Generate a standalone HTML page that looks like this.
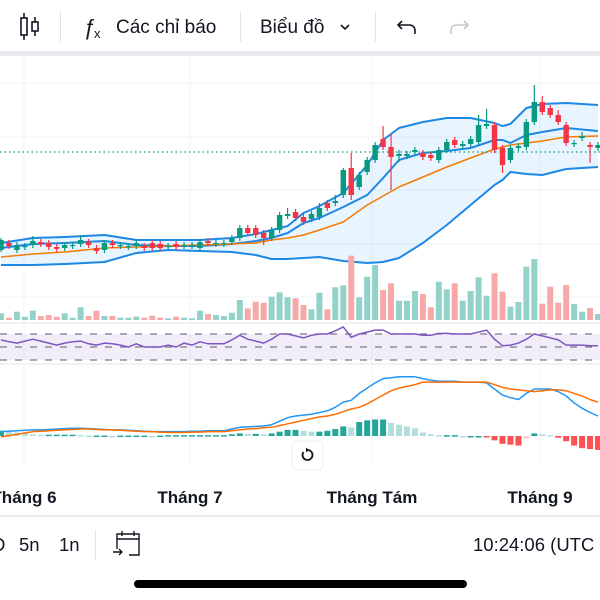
<!DOCTYPE html>
<html><head><meta charset="utf-8"><style>
html,body{margin:0;padding:0;background:#fff;width:600px;height:600px;overflow:hidden;font-family:"Liberation Sans","Noto Sans CJK SC",sans-serif}
svg{position:absolute;left:0;top:0}
</style></head><body>
<svg id="c" width="600" height="600" viewBox="0 0 600 600" xmlns="http://www.w3.org/2000/svg">
<g>
<rect x="0" y="0" width="600" height="56" fill="#fff"/>
<rect x="0" y="51" width="600" height="5" fill="#e8eaef"/>
<g stroke="#131722" stroke-width="1.6" fill="none">
<line x1="24" y1="13" x2="24" y2="40"/><rect x="21" y="18" width="6" height="17" fill="#fff"/>
<line x1="35" y1="17" x2="35" y2="36"/><rect x="32" y="22" width="6" height="9" fill="#fff"/></g>
<rect x="60" y="12" width="1" height="30" fill="#e0e3eb"/>
<g>
<text x="84" y="35" font-size="22" fill="#131722">ƒ</text>
<text x="94" y="38" font-size="13" fill="#131722">x</text>
<text x="116" y="33" font-size="19" fill="#131722">Các chỉ báo</text></g>
<rect x="240" y="12" width="1" height="30" fill="#e0e3eb"/>
<g>
<text x="260" y="33" font-size="19" fill="#131722">Biểu đồ</text>
<path d="M341 25 l4 4 l4 -4" stroke="#131722" stroke-width="1.6" fill="none"/></g>
<rect x="375" y="12" width="1" height="30" fill="#e0e3eb"/>
<path d="M402 21 l-4 4 l4 4 M398 25 h11 q6 0 6 6 v3" stroke="#131722" stroke-width="1.6" fill="none"/>
<path d="M464 21 l4 4 l-4 4 M468 25 h-11 q-6 0 -6 6 v3" stroke="#c6c9d1" stroke-width="1.6" fill="none"/>
</g>
<g id="grid"></g>
<g id="bands"></g>
<g id="candles"></g>
<g id="vol"></g>
<g id="rsi"></g>
<g id="macd"></g>
<g>
<rect x="292" y="441" width="31" height="29" rx="5" fill="#fff" stroke="#eceef2"/>
<path d="M303.5 452 a5 5 0 1 0 4-2" stroke="#131722" stroke-width="1.8" fill="none"/>
<path d="M306 447.5 l3 2.5 l-3 2.5z" fill="#131722"/></g>
<g font-size="17" font-weight="bold" fill="#131722" text-anchor="middle">
<text x="24" y="503">Tháng 6</text>
<text x="190" y="503">Tháng 7</text>
<text x="372" y="503">Tháng Tám</text>
<text x="540" y="503">Tháng 9</text></g>
<rect x="0" y="515" width="600" height="2" fill="#e8eaef"/>
<g font-size="18.5" fill="#131722">
<text x="-8" y="551">D</text>
<text x="19" y="551">5n</text>
<text x="59" y="551">1n</text>
<rect x="95" y="530" width="1" height="30" fill="#e0e3eb"/>
<g stroke="#131722" stroke-width="1.4" fill="none">
<path d="M117 549 v-15 h22 v21 h-10 M117 539 h22 M122 531 v5 M134 531 v5 M113 552 h9 m-3 -3 l3 3 l-3 3"/></g>
<text x="473" y="551">10:24:06 (UTC</text></g>
<rect x="134" y="580" width="333" height="8" rx="4" fill="#000"/>
</svg>
<script>
const opens=[50,57,50,53,55,58,57,53,52,54,56,58,52,50,57,54,53,54,54,57,56,53,56,54,54,52,59,56,56,58,62,72,72,67,62,70,84,88,83,81,83,97,97,105,132,113,128,140,161,153,144,144,148,147,145,140,150,160,154,156,158,174,175,152,140,152,153,178,198,192,185,175,156,162,155,152];
const closes=[60,54,55,54,59,56,53,51,55,55,60,55,49,57,55,55,54,57,52,52,52,54,53,55,55,58,57,57,57,62,72,67,65,62,70,85,86,82,78,86,92,92,99,130,105,125,140,155,153,143,146,146,150,143,142,150,158,155,156,161,175,176,150,135,152,154,178,198,188,185,178,157,157,164,153,155];
const highOverride={0:62,4:64,10:65,36:92,40:97,42:105,43:132,44:147,48:174,49:167,50:150,60:185,61:191,67:215,68:204,70:190,73:168};
const lowOverride={0:48,12:46,33:55,44:100,49:110,50:138,63:127,74:137};
const volumes=[6.7,2.3,8.3,3.3,9.3,4,5,3.3,6.7,2.3,12.7,4,9.3,4,4,2.3,2.3,3.3,2.3,4.3,2.3,1.7,3.3,2.3,1.7,9.3,6,5,4,7.3,20,11.7,18.3,17.3,23.3,27.7,22.7,21.7,15,10.7,27.3,10.7,32.7,34.7,64.3,22.7,43.3,55,30,36.7,19.3,19.3,29,26,12.7,38.3,30.7,36.7,19.3,29,42.7,24.3,46.7,28.3,13.3,18,53.3,61,16.3,33.3,17.3,35,16,8.3,12,6];
const bandIdx=[0,4,8,13,17,21,25,29,32,34,36,38,40,43,46,48,50,53,56,59,62,63,64,66,68,71,75];
const bandUpper=[57,62,63,65,60,60,60,62,66,70,74,87,94,107,135,160,172,178,182,182,177,174,176,192,196,197,195];
const bandMiddle=[52,56,57,59,55,54,54,56,59,62,67,77,82,93,105,122,140,147,149,152,160,160,157,165,168,172,169];
const bandLower=[35,35,36,38,47,50,49,48,45,41,41,42,43,39,37,38,42,57,75,95,115,120,128,126,125,131,133];
const maLine=[43,46,48,52,53,54,55,56,57,60,62,65,70,78,95,104,113,123,133,142,151,153,155,157,159,163,164];
const lastPrice=148;
const rsi=[61,58,56,59,62,59,56,53,56,58,59,55,53,56,55,53,50,55,50,50,50,53,50,56,53,58,55,55,55,61,68,62,59,56,62,70,70,67,64,68,70,70,75,81,65,70,73,76,76,70,70,70,70,68,68,71,71,70,70,70,73,76,62,52,53,56,62,70,67,64,61,53,53,53,52,52];
const rsiLevels=[70,50,30];
const macdLine=[5,5.5,6,6.5,7,7,7.5,8,8.5,9,9,8.5,8,7.5,7,7,6.5,6,5.5,5,5,5,5,5,5.5,5.5,6,6,6,8,10,10.5,11,11.5,13,17,21,23,24,25,27,29,33,39,41,49,55,61,66,67,68,68,68,66,64,63,63,63,62,62,62,61,54,47,44,42,49,54,54,54,51,46,38,32,27,23];
const signalLine=[-1,0.5,2,3.5,5,5.5,6,6.5,7,7.5,8,8,7.5,7,7,6.5,6,5.5,5,5,4.5,4,4,4,4.5,4.5,5,5,5,6,7,8,8.5,9.5,10,12,14,16,18,20,22,23,25,28,31,33,37,42,47,52,55,57,59,62,62,62,62,62,62,62,62,62,59,56,54,53,52,51,52,53,53,52,49,46,42,39];

const NS='http://www.w3.org/2000/svg';
const xOf=i=>1+i*7.96;
const yP=p=>300-p;
const yV=v=>320-v;
const yR=r=>347-(r-50)*0.65;
const yM=m=>436-m*0.87;
function mk(parent,tag,attrs){const e=document.createElementNS(NS,tag);for(const k in attrs)e.setAttribute(k,attrs[k]);parent.appendChild(e);return e;}
const G=id=>document.getElementById(id);

const grid=G('grid');
[24,190,372,540].forEach(x=>{const l=mk(grid,'line',{x1:x,x2:x,y1:56,y2:465,stroke:'#f0f3fa','stroke-width':1});

});
[83,137,190,244,297].forEach(y=>{const l=mk(grid,'line',{x1:0,x2:600,y1:y,y2:y,stroke:'#f0f3fa','stroke-width':1});

});
[323,364].forEach(y=>{const l=mk(grid,'line',{x1:0,x2:600,y1:y,y2:y,stroke:'#eceef2','stroke-width':1.5});

});

const bands=G('bands');
const ptsOf=(arr,fy)=>bandIdx.map((i,k)=>xOf(i).toFixed(1)+','+fy(arr[k]).toFixed(1));
const fill=mk(bands,'polygon',{points:ptsOf(bandUpper,yP).concat(ptsOf(bandLower,yP).reverse()).join(' '),fill:'rgba(33,150,243,0.1)'});


[[bandUpper,'#1e88e5','band-upper'],[bandMiddle,'#1e88e5','band-middle'],[bandLower,'#1e88e5','band-lower'],[maLine,'#f57c00','moving-average']].forEach(([a,c,n])=>{
const l=mk(bands,'polyline',{points:ptsOf(a,yP).join(' '),fill:'none',stroke:c,'stroke-width':n==='moving-average'?1.5:2,'stroke-linejoin':'round'});

});
const pl=mk(bands,'line',{x1:0,x2:600,y1:yP(lastPrice),y2:yP(lastPrice),stroke:'#089981','stroke-width':1.2,'stroke-dasharray':'1.5 3'});



const cg=G('candles'),vg=G('vol');
opens.forEach((o,i)=>{
const c=closes[i],up=c>=o,col=up?'#089981':'#f23645',x=xOf(i);
const hi=highOverride[i]!==undefined?highOverride[i]:Math.max(o,c)+3;
const lo=lowOverride[i]!==undefined?lowOverride[i]:Math.min(o,c)-3;
const w=mk(cg,'line',{x1:x,x2:x,y1:yP(hi),y2:yP(lo),stroke:col,'stroke-width':1.2});


const top=yP(Math.max(o,c)),h=Math.max(1.2,Math.abs(o-c));
const b=mk(cg,'rect',{x:x-2.7,y:top,width:5.4,height:h,fill:col});


const v=volumes[i];
const vb=mk(vg,'rect',{x:x-3,y:yV(v),width:6,height:v,fill:up?'#92d2c8':'#f7a9a9'});


});

const rg=G('rsi');
const rf=mk(rg,'rect',{x:0,y:yR(rsiLevels[0]),width:600,height:yR(rsiLevels[2])-yR(rsiLevels[0]),fill:'rgba(126,87,194,0.1)'});


rsiLevels.forEach(l=>{const d=mk(rg,'line',{x1:0,x2:600,y1:yR(l),y2:yR(l),stroke:'#787b86','stroke-width':1.2,'stroke-dasharray':'7 8'});

});
const rl=mk(rg,'polyline',{points:rsi.map((r,i)=>xOf(i).toFixed(1)+','+yR(r).toFixed(1)).join(' '),fill:'none',stroke:'#7e57c2','stroke-width':1.5,'stroke-linejoin':'round'});



const mg=G('macd');
macdLine.forEach((m,i)=>{
const h=m-signalLine[i],prev=i>0?macdLine[i-1]-signalLine[i-1]:h;
let col;if(h>=0)col=h>=prev?'#26a69a':'#b2dfdb';else col=h<prev?'#ff5252':'#ffcdd2';
const y0=yM(0),y1=yM(h);
const r=mk(mg,'rect',{x:xOf(i)-3,y:Math.min(y0,y1),width:6,height:Math.max(1.5,Math.abs(y1-y0)),fill:col});

});
[[macdLine,'#2196f3','macd-line'],[signalLine,'#ff6d00','signal-line']].forEach(([a,c,n])=>{
const l=mk(mg,'polyline',{points:a.map((m,i)=>xOf(i).toFixed(1)+','+yM(m).toFixed(1)).join(' '),fill:'none',stroke:c,'stroke-width':1.5,'stroke-linejoin':'round'});

});
</script>
</body></html>
